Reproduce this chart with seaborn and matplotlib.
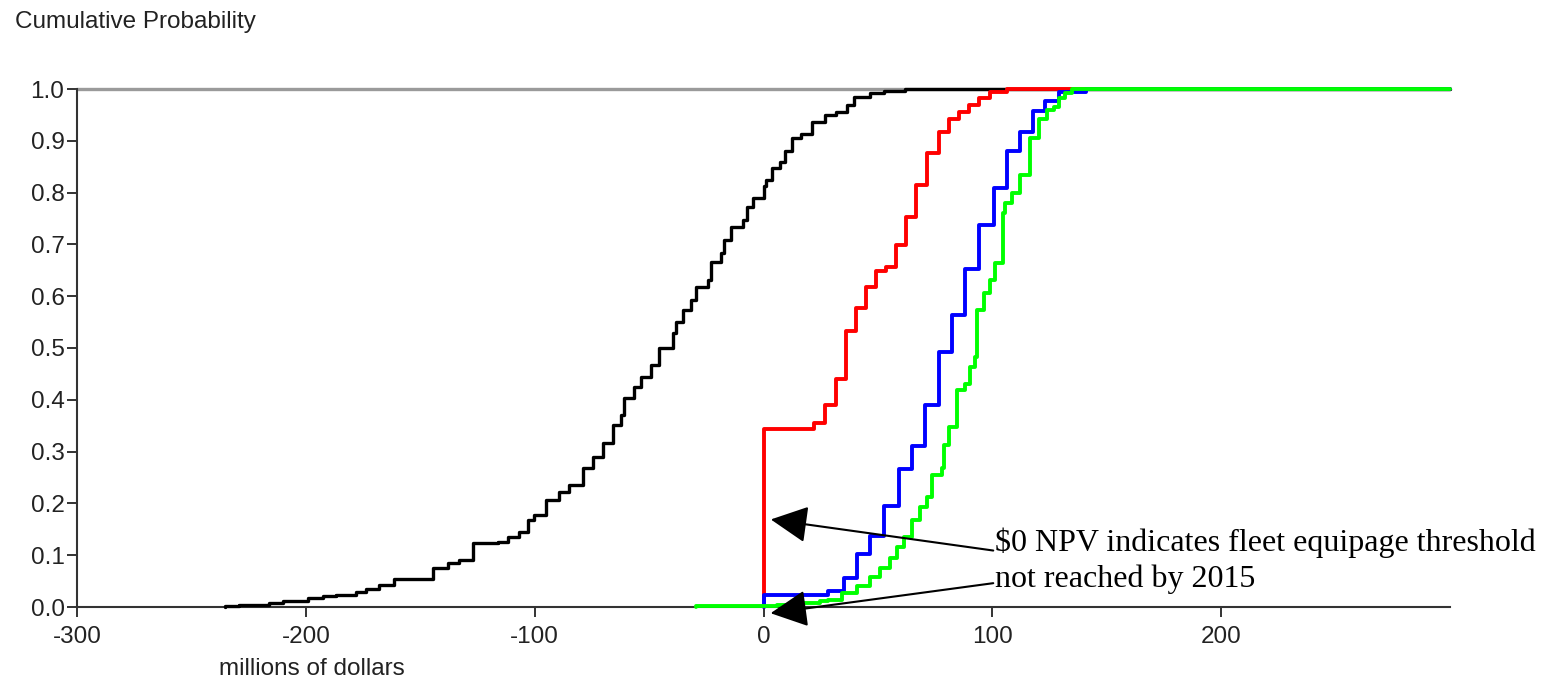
import matplotlib
matplotlib.use("Agg")
import matplotlib.pyplot as plt
import seaborn as sns
import pandas as pd

# ---------------- data ----------------
black_x = [-235.4, -229.3, -216.2, -210.1, -199.1, -192.6, -186.9, -178.1, -173.7, -168.1,
           -161.5, -144.4, -137.9, -133.0, -126.9, -116.0, -111.6, -106.8, -102.8, -100.2,
           -95.0, -89.3, -84.9, -78.8, -74.4, -70.0, -65.6, -62.1, -60.8, -56.5,
           -53.4, -49.0, -45.5, -39.4, -38.1, -35.0, -31.5, -29.3, -24.1, -22.8,
           -18.4, -17.1, -14.0, -8.8, -7.4, -4.4, 0.0, 1.3, 3.5, 7.0,
           9.2, 12.3, 16.6, 21.0, 26.7, 31.9, 36.3, 39.4, 46.4, 52.5, 61.7]
black_y = [0.002, 0.003, 0.008, 0.012, 0.017, 0.021, 0.023, 0.029, 0.035, 0.042,
           0.054, 0.075, 0.085, 0.091, 0.124, 0.125, 0.135, 0.145, 0.168, 0.178,
           0.207, 0.222, 0.235, 0.268, 0.290, 0.317, 0.351, 0.371, 0.403, 0.425,
           0.444, 0.467, 0.500, 0.529, 0.550, 0.573, 0.593, 0.618, 0.631, 0.666,
           0.683, 0.708, 0.734, 0.747, 0.772, 0.790, 0.812, 0.824, 0.847, 0.859,
           0.880, 0.905, 0.913, 0.936, 0.950, 0.956, 0.969, 0.985, 0.992, 0.996, 1.0]

red_x = [0.0, 21.9, 26.7, 31.5, 35.9, 40.3, 44.6, 49.0, 53.4, 57.8, 62.1,
         66.5, 71.3, 76.6, 81.0, 85.3, 89.7, 94.1, 98.9, 106.3]
red_y = [0.344, 0.355, 0.390, 0.440, 0.533, 0.577, 0.618, 0.649, 0.656, 0.699, 0.753,
         0.815, 0.876, 0.917, 0.942, 0.956, 0.969, 0.983, 0.994, 1.0]

blue_x = [0.0, 28.4, 35.0, 40.7, 46.4, 52.5, 59.1, 64.8, 70.5, 76.6,
          82.3, 88.0, 94.1, 100.7, 106.3, 112.0, 117.7, 123.0, 129.1, 140.9]
blue_y = [0.023, 0.031, 0.056, 0.102, 0.137, 0.195, 0.266, 0.311, 0.390, 0.492,
          0.564, 0.653, 0.737, 0.809, 0.880, 0.917, 0.958, 0.977, 0.994, 1.0]

green_x = [-29.3, 5.7, 16.6, 24.5, 28.4, 34.1, 40.7, 46.4, 50.8, 55.1,
           58.2, 61.3, 64.8, 68.3, 71.3, 73.5, 77.9, 78.8, 81.0, 84.5,
           88.0, 90.2, 92.3, 93.2, 96.3, 98.9, 101.1, 104.6, 105.5, 108.5,
           112.0, 116.4, 120.4, 123.9, 126.9, 129.1, 131.7, 134.8]
green_y = [0.002, 0.004, 0.008, 0.011, 0.0135, 0.027, 0.040, 0.058, 0.075, 0.095,
           0.116, 0.135, 0.168, 0.193, 0.212, 0.255, 0.268, 0.313, 0.347, 0.419,
           0.430, 0.463, 0.483, 0.573, 0.606, 0.631, 0.664, 0.761, 0.780, 0.800,
           0.834, 0.905, 0.942, 0.959, 0.965, 0.983, 0.992, 1.0]

x_ticks = [-300, -200, -100, 0, 100, 200]
y_ticks = [0.0, 0.1, 0.2, 0.3, 0.4, 0.5, 0.6, 0.7, 0.8, 0.9, 1.0]
x_range = [-300, 300]

title_text = "Cumulative Probability"
xlabel_text = "millions of dollars"
note_line1 = r"\$0 NPV indicates fleet equipage threshold"
note_line2 = "not reached by 2015"

# ---------------- style ----------------
sns.set_style("white")
plt.rcParams["font.family"] = ["Liberation Sans", "DejaVu Sans"]
plt.rcParams["axes.unicode_minus"] = False

fig = plt.figure(figsize=(15.49, 6.83), dpi=100)
ax = fig.add_axes([77 / 1549, 1 - 607 / 683, (1450 - 77) / 1549, (607 - 89) / 683])

ax.axhline(1.0, color="#9a9a9a", lw=2.4, clip_on=False, zorder=1)


def ecdf_frame(xs, ys):
    px = [xs[0]] + list(xs) + [x_range[1]]
    py = [0.0] + list(ys) + [ys[-1]]
    return pd.DataFrame({"x": px, "y": py})


series = [
    (black_x, black_y, "#000000", 2.4, 2),
    (red_x, red_y, "#ff0000", 2.8, 3),
    (blue_x, blue_y, "#0000ff", 2.8, 4),
    (green_x, green_y, "#00ff00", 2.8, 5),
]
for xs, ys, col, lw, z in series:
    df = ecdf_frame(xs, ys)
    sns.lineplot(data=df, x="x", y="y", estimator=None, sort=False,
                 drawstyle="steps-post", color=col, lw=lw, ax=ax,
                 clip_on=False, zorder=z)

ax.set_xlim(*x_range)
ax.set_ylim(0, 1)
ax.set_xticks(x_ticks)
ax.set_xticklabels([str(v) for v in x_ticks])
ax.set_yticks(y_ticks)
ax.set_yticklabels([f"{v:.1f}" for v in y_ticks])
ax.set_xlabel("")
ax.set_ylabel("")

for s in ["top", "right"]:
    ax.spines[s].set_visible(False)
for s in ["left", "bottom"]:
    ax.spines[s].set_color("#333333")
    ax.spines[s].set_linewidth(1.5)
    ax.spines[s].set_zorder(1.5)

ax.tick_params(axis="both", which="major", direction="out", length=7, width=1.4,
               color="#333333", labelsize=17.5, labelcolor="#222222")
ax.tick_params(axis="y", left=True, pad=2)
ax.tick_params(axis="x", bottom=True, pad=7)

fig.text(15 / 1549, 1 - 28 / 683, title_text, ha="left", va="baseline",
         fontsize=17.5, color="#222222")
fig.text(312 / 1549, 1 - 675 / 683, xlabel_text, ha="center", va="baseline",
         fontsize=17.5, color="#222222")

# annotation
serif = ["Liberation Serif", "DejaVu Serif"]
ax.text(101.1, 0.109, note_line1, family=serif, fontsize=23, ha="left",
        va="baseline", color="black", zorder=6)
ax.text(101.1, 0.038, note_line2, family=serif, fontsize=23, ha="left",
        va="baseline", color="black", zorder=6)

arrow = dict(arrowstyle="-|>,head_length=1.15,head_width=0.575", mutation_scale=20,
             color="black", lw=1.5, shrinkA=0, shrinkB=0)
ax.annotate("", xy=(3.2, 0.169), xytext=(100.4, 0.109), arrowprops=arrow,
            annotation_clip=False, zorder=7)
ax.annotate("", xy=(3.1, -0.012), xytext=(100.4, 0.046), arrowprops=arrow,
            annotation_clip=False, zorder=7)

fig.savefig("out.png", dpi=100)
